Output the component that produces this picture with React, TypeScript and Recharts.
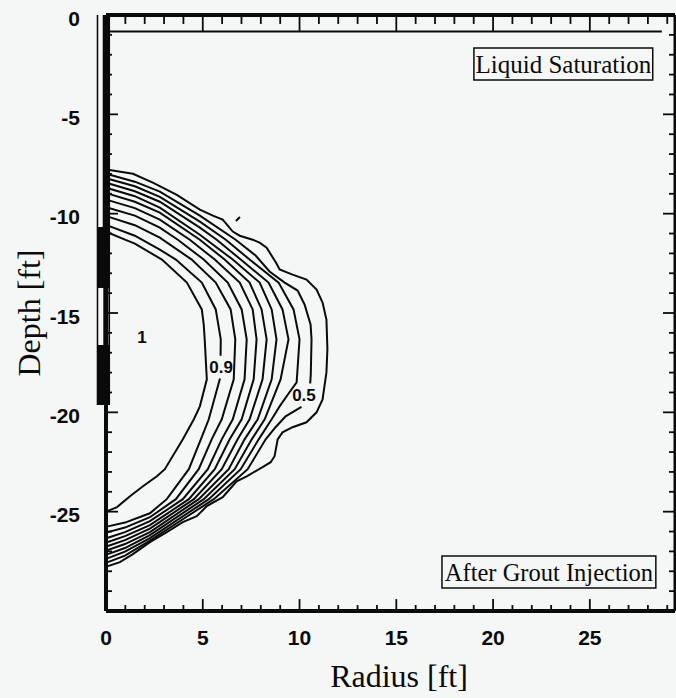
import {
  ComposedChart,
  Line,
  XAxis,
  YAxis,
  ReferenceArea,
  ReferenceDot,
  ReferenceLine,
} from "recharts";

// [radius ft, depth ft]; null breaks the line where a level label sits
type Pt = [number, number | null];

const radiusTicks = [0, 1, 2, 3, 4, 5, 6, 7, 8, 9, 10, 11, 12, 13, 14, 15, 16, 17, 18, 19, 20, 21, 22, 23, 24, 25, 26, 27, 28, 29];
const radiusLabels = [0, 5, 10, 15, 20, 25];
const depthTicks = [0, -1, -2, -3, -4, -5, -6, -7, -8, -9, -10, -11, -12, -13, -14, -15, -16, -17, -18, -19, -20, -21, -22, -23, -24, -25, -26, -27, -28, -29, -30];
const depthLabels = [0, -5, -10, -15, -20, -25];

const contourLevels = [0.95, 0.9, 0.85, 0.8, 0.75, 0.7, 0.65, 0.6, 0.55, 0.5, 0.45];

const sat095: Pt[] = [[0.1, -10.95], [0.98, -11.31], [1.49, -11.51], [2.89, -12.31], [4.18, -13.47], [4.95, -14.82], [5.05, -15.58], [5.1, -16.33], [5.21, -18.34], [4.85, -19.7], [4.54, -20.35], [3.97, -21.36], [3.04, -22.86], [2.63, -23.22], [1.91, -23.72], [1.24, -24.22], [0.57, -24.77], [0.1, -24.96]];
const sat090: Pt[] = [[0.1, -10.6], [1.49, -11.11], [2.78, -11.81], [3.61, -12.31], [4.95, -13.47], [5.67, -14.82], [5.93, -16.33], [5.92, -17.15], [5.92, null], [5.89, -18.3], [5.31, -20.35], [4.9, -21.36], [4.28, -22.86], [3.14, -24.37], [2.27, -25.08], [0.98, -25.55], [0.1, -25.74]];
const sat085: Pt[] = [[0.1, -10.15], [1.49, -10.58], [2.78, -11.21], [4.43, -12.31], [5.67, -13.47], [6.44, -14.82], [6.68, -16.33], [6.6, -18.34], [5.98, -20.35], [5.46, -21.36], [4.79, -22.86], [3.61, -24.37], [2.27, -25.28], [0.98, -25.8], [0.1, -26.03]];
const sat080: Pt[] = [[0.1, -9.7], [1.49, -10.1], [2.78, -10.7], [3.71, -11.31], [5.05, -12.31], [6.29, -13.47], [7.01, -14.82], [7.27, -16.33], [7.16, -18.34], [6.55, -20.35], [5.98, -21.36], [5.26, -22.86], [3.97, -24.37], [2.27, -25.48], [0.98, -26.03], [0.1, -26.31]];
const sat075: Pt[] = [[0.1, -9.32], [1.49, -9.72], [2.78, -10.3], [4.33, -11.31], [5.62, -12.31], [6.91, -13.47], [7.58, -14.82], [7.78, -16.33], [7.63, -18.34], [7.01, -20.35], [6.39, -21.36], [5.62, -22.86], [4.28, -24.37], [2.27, -25.68], [0.98, -26.23], [0.1, -26.53]];
const sat070: Pt[] = [[0.1, -8.99], [1.49, -9.4], [2.78, -9.95], [4.85, -11.31], [6.13, -12.31], [7.42, -13.47], [8.04, -14.82], [8.3, -16.33], [8.09, -18.34], [7.42, -20.35], [6.8, -21.36], [5.98, -22.86], [4.54, -24.37], [2.27, -25.85], [0.98, -26.43], [0.1, -26.73]];
const sat065: Pt[] = [[0.1, -8.72], [1.49, -9.12], [2.78, -9.7], [4.85, -11.06], [6.55, -12.31], [7.94, -13.47], [8.56, -14.82], [8.81, -16.33], [8.56, -18.34], [7.84, -20.35], [7.16, -21.36], [6.34, -22.86], [4.79, -24.37], [2.27, -26.03], [0.98, -26.63], [0.1, -26.93]];
const sat060: Pt[] = [[0.1, -8.47], [1.49, -8.87], [2.78, -9.4], [4.85, -10.7], [5.72, -11.31], [6.96, -12.31], [8.4, -13.47], [9.12, -14.82], [9.43, -16.33], [9.02, -18.34], [8.2, -20.35], [7.53, -21.36], [6.65, -22.86], [5.05, -24.37], [2.27, -26.18], [0.98, -26.83], [0.1, -27.14]];
const sat055: Pt[] = [[0.1, -8.24], [1.49, -8.62], [2.78, -9.15], [4.85, -10.4], [6.19, -11.31], [7.42, -12.31], [8.92, -13.47], [9.69, -14.82], [10.0, -16.33], [9.85, -18.49], [9.48, -18.99], [8.97, -19.7], [8.56, -20.35], [7.89, -21.36], [6.96, -22.86], [5.31, -24.37], [2.27, -26.33], [0.98, -27.01], [0.1, -27.34]];
const sat050: Pt[] = [[0.1, -8.02], [1.49, -8.39], [2.78, -8.89], [4.85, -10.1], [6.7, -11.31], [7.73, -12.11], [8.45, -12.91], [9.23, -13.47], [9.9, -13.87], [10.26, -14.57], [10.57, -15.58], [10.62, -16.33], [10.58, -18.1], [10.55, -18.55], [10.55, null], [10.1, -19.72], [9.28, -20.2], [8.76, -20.75], [8.25, -21.36], [7.32, -22.86], [5.57, -24.37], [3.97, -25.38], [2.27, -26.46], [0.98, -27.21], [0.1, -27.54]];
const sat045: Pt[] = [[0.1, -7.79], [1.39, -7.99], [2.42, -8.44], [3.66, -9.05], [4.85, -9.8], [5.52, -10.1], [6.03, -10.3], [6.55, -10.9], [6.91, -11.11], [7.58, -11.31], [7.94, -11.46], [8.3, -11.71], [8.81, -12.51], [8.97, -12.81], [9.64, -13.07], [10.36, -13.32], [10.88, -13.82], [11.19, -14.47], [11.39, -15.33], [11.44, -16.83], [11.39, -17.99], [11.19, -19.35], [10.88, -20.0], [10.36, -20.5], [9.64, -20.75], [9.12, -21.01], [8.87, -21.36], [8.71, -22.21], [8.51, -22.51], [8.09, -22.76], [7.27, -23.22], [6.75, -23.47], [6.39, -23.87], [6.03, -24.27], [5.21, -24.72], [4.69, -25.23], [3.97, -25.53], [3.14, -26.03], [2.27, -26.53], [1.39, -27.14], [0.72, -27.54], [0.1, -27.74]];
const strayBit: Pt[] = [[6.71, -10.37], [6.92, -10.17]];

const groundSurface: Pt[] = [[0.1, -0.83], [28.72, -0.83]];

// [r from, r to, depth top, depth bottom]
const wellCasing = [[-0.48, 0.21, 0, -19.63]];
const wellOpenings = [
  [-0.4, -0.17, 0, -10.67],
  [-0.4, -0.14, -13.74, -16.61],
  [-0.02, 0.12, -13.74, -16.61],
];

const contours = [sat095, sat090, sat085, sat080, sat075, sat070, sat065, sat060, sat055, sat050, sat045];

const R_MAX = 29.4;
const D_MIN = -30;

const BG = "#f5f7f6";
const INK = "#0a0a0a";
const SANS = "'Liberation Sans', Arial, Helvetica, sans-serif";
const SERIF = "'Liberation Serif', 'Times New Roman', Times, serif";

const toRows = (pts: Pt[]) => pts.map(([r, d]) => ({ r, d }));

const BottomLabel = (props: any) => {
  const { x, y, payload } = props;
  if (!radiusLabels.includes(payload.value)) return <g />;
  return (
    <text x={x} y={y + 34} textAnchor="middle" fontSize={21} fontWeight="bold" fontFamily={SANS} fill={INK}>
      {payload.value}
    </text>
  );
};

const LeftLabel = (props: any) => {
  const { x, y, payload } = props;
  if (!depthLabels.includes(payload.value)) return <g />;
  return (
    <text x={x - 26} y={y + 10.5} textAnchor="end" fontSize={21} fontWeight="bold" fontFamily={SANS} fill={INK}>
      {payload.value}
    </text>
  );
};

const tagStyle = { fontSize: 17, fontWeight: "bold", fontFamily: SANS, fill: INK };
const tickLine = { stroke: INK, strokeWidth: 1.8, ifOverflow: "visible" as const };

export default function App() {
  return (
    <div style={{ position: "absolute", left: 0, top: 0, width: 676, height: 698, background: BG }}>
      <ComposedChart width={676} height={698} margin={{ top: 15, right: 1, bottom: 7, left: 6 }}>
        <XAxis
          dataKey="r"
          type="number"
          domain={[0, R_MAX]}
          allowDataOverflow
          ticks={radiusTicks}
          interval={0}
          height={80}
          tickSize={0}
          tickMargin={0}
          tickLine={false}
          axisLine={{ stroke: INK, strokeWidth: 4 }}
          tick={BottomLabel}
          label={(p: any) => {
            const vb = p.viewBox || { x: 106, y: 611, width: 569 };
            return (
              <text x={vb.x + vb.width / 2 + 8.5} y={vb.y + 76} textAnchor="middle" fontSize={32} fontFamily={SERIF} fill={INK}>
                Radius [ft]
              </text>
            );
          }}
        />
        <YAxis
          type="number"
          domain={[D_MIN, 0]}
          allowDataOverflow
          ticks={depthTicks}
          interval={0}
          width={100}
          tickSize={0}
          tickMargin={0}
          tickLine={false}
          axisLine={{ stroke: INK, strokeWidth: 4 }}
          tick={LeftLabel}
          label={() => (
            <text transform="translate(40,313) rotate(-90)" textAnchor="middle" fontSize={32} fontFamily={SERIF} fill={INK}>
              Depth [ft]
            </text>
          )}
        />

        {/* top and right frame */}
        <ReferenceLine y={0} stroke={INK} strokeWidth={4} ifOverflow="visible" />
        <ReferenceLine x={R_MAX} stroke={INK} strokeWidth={3} ifOverflow="visible" />

        {/* inward tick marks on all four sides */}
        {radiusTicks.map((v) => {
          const major = radiusLabels.includes(v);
          return (
            <ReferenceLine key={"tb" + v} segment={[{ x: v, y: D_MIN }, { x: v, y: D_MIN + (major ? 0.6 : 0.3) }]} {...tickLine} />
          );
        })}
        {radiusTicks.map((v) => {
          const major = radiusLabels.includes(v);
          return <ReferenceLine key={"tt" + v} segment={[{ x: v, y: 0 }, { x: v, y: major ? -0.83 : -0.45 }]} {...tickLine} />;
        })}
        {depthTicks.map((v) => {
          const major = depthLabels.includes(v);
          return <ReferenceLine key={"tl" + v} segment={[{ x: 0, y: v }, { x: major ? 0.62 : 0.31, y: v }]} {...tickLine} />;
        })}
        {depthTicks.map((v) => {
          const major = depthLabels.includes(v);
          return (
            <ReferenceLine key={"tr" + v} segment={[{ x: R_MAX, y: v }, { x: R_MAX - (major ? 0.62 : 0.31), y: v }]} {...tickLine} />
          );
        })}

        {wellCasing.map(([a, b, t, u], i) => (
          <ReferenceArea key={"c" + i} x1={a} x2={b} y1={u} y2={t} fill={INK} fillOpacity={1} stroke="none" ifOverflow="visible" />
        ))}
        {wellOpenings.map(([a, b, t, u], i) => (
          <ReferenceArea key={"o" + i} x1={a} x2={b} y1={u} y2={t} fill={BG} fillOpacity={1} stroke="none" ifOverflow="visible" />
        ))}

        <Line data={toRows(groundSurface)} dataKey="d" type="linear" stroke={INK} strokeWidth={2} dot={false} activeDot={false} isAnimationActive={false} />
        {contours.map((pts, i) => (
          <Line
            key={contourLevels[i]}
            name={String(contourLevels[i])}
            data={toRows(pts)}
            dataKey="d"
            type="linear"
            stroke={INK}
            strokeWidth={2}
            dot={false}
            activeDot={false}
            connectNulls={false}
            isAnimationActive={false}
          />
        ))}
        <Line data={toRows(strayBit)} dataKey="d" type="linear" stroke={INK} strokeWidth={2} dot={false} activeDot={false} isAnimationActive={false} />

        <ReferenceDot x={1.86} y={-16.2} r={0} fill="none" stroke="none" label={{ value: "1", position: "center", ...tagStyle }} />
        <ReferenceDot x={5.95} y={-17.74} r={0} fill="none" stroke="none" label={{ value: "0.9", position: "center", ...tagStyle }} />
        <ReferenceDot x={10.23} y={-19.15} r={0} fill="none" stroke="none" label={{ value: "0.5", position: "center", ...tagStyle }} />

        <ReferenceArea
          x1={19.01}
          x2={28.25}
          y1={-3.27}
          y2={-1.66}
          fill="none"
          stroke={INK}
          strokeWidth={1.5}
          label={{ value: "Liquid Saturation", position: "center", fontSize: 25, fontFamily: SERIF, fill: INK }}
        />
        <ReferenceArea
          x1={17.36}
          x2={28.41}
          y1={-28.84}
          y2={-27.23}
          fill="none"
          stroke={INK}
          strokeWidth={1.5}
          label={{ value: "After Grout Injection", position: "center", fontSize: 24.5, fontFamily: SERIF, fill: INK }}
        />
      </ComposedChart>
    </div>
  );
}
